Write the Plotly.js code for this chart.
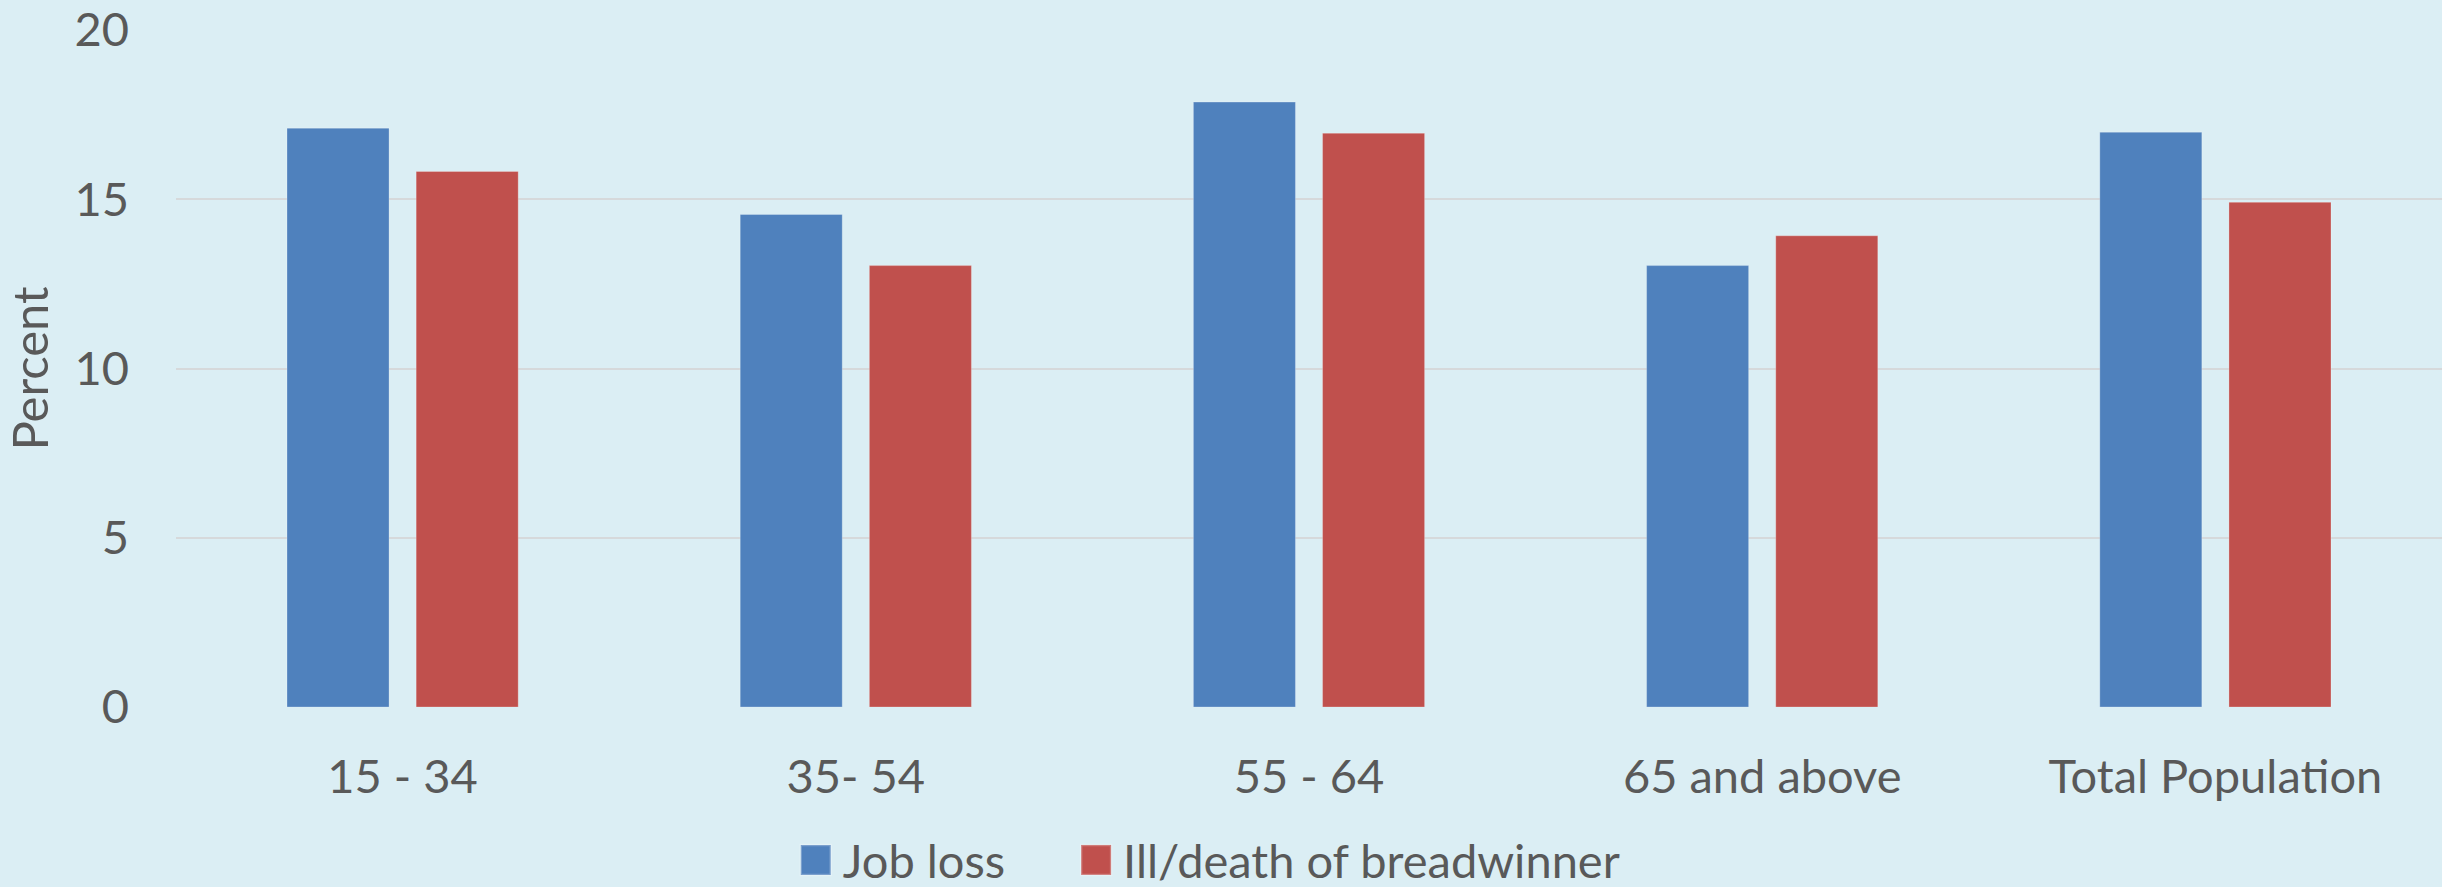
<!DOCTYPE html>
<html>
<head>
<meta charset="utf-8">
<script src="https://cdn.plot.ly/plotly-3.0.1.min.js"></script>
<style>
html,body{margin:0;padding:0;background:#dbeef4;}
#chart{width:2442px;height:887px;}
</style>
</head>
<body>
<div id="chart"></div>
<script>
const categories = ["15 - 34", "35- 54", "55 - 64", "65 and above", "Total Population"];
const jobLoss = [17.1, 14.55, 17.87, 13.04, 16.98];
const illDeath = [15.82, 13.04, 16.95, 13.92, 14.91];
const seriesNames = ["Job loss", "Ill/death of breadwinner"];
const yTicks = [0, 5, 10, 15, 20];

const textColor = "#595959";
const fontFamily = "Lato, 'Open Sans', sans-serif";

const traces = [
  {type: "bar", name: seriesNames[0], x: categories, y: jobLoss, legend: "legend",
   marker: {color: "#4f81bd", line: {color: "rgba(255,255,255,0.25)", width: 1}}},
  {type: "bar", name: seriesNames[1], x: categories, y: illDeath, legend: "legend2",
   marker: {color: "#c0504d", line: {color: "rgba(255,255,255,0.25)", width: 1}}}
];

const legendCommon = {
  orientation: "h", xref: "container", yref: "container",
  xanchor: "left", y: 0.03, yanchor: "middle",
  font: {size: 47, color: textColor}, bgcolor: "rgba(0,0,0,0)",
  itemwidth: 44
};

const layout = {
  width: 2442, height: 887,
  paper_bgcolor: "#dbeef4", plot_bgcolor: "#dbeef4",
  margin: {l: 176, r: 0, t: 30, b: 180},
  barmode: "group", bargap: 0.43, bargroupgap: 0.21,
  font: {family: fontFamily, color: textColor, size: 47},
  xaxis: {
    showgrid: false, zeroline: false, showline: false, ticks: "",
    ticklabelstandoff: 38,
    tickfont: {size: 47, color: textColor}
  },
  yaxis: {
    range: [0, 20], tickvals: yTicks, ticktext: yTicks.map(String),
    showgrid: true, gridcolor: "#d6d9db", gridwidth: 2,
    zeroline: false, showline: false, ticks: "",
    ticklabelstandoff: 46,
    tickfont: {size: 47, color: textColor},
    title: {text: "Percent", font: {size: 49, color: textColor}, standoff: 16}
  },
  showlegend: true,
  legend: Object.assign({}, legendCommon, {x: 0.323}),
  legend2: Object.assign({}, legendCommon, {x: 0.4378})
};

function bigLegendSymbols(){
  document.querySelectorAll(".legendpoints path").forEach(function(p){
    var t = p.getAttribute("transform") || "";
    if (t.indexOf("scale") === -1) p.setAttribute("transform", t + " scale(2.5)");
  });
}

Plotly.newPlot("chart", traces, layout, {displayModeBar: false}).then(function(gd){
  bigLegendSymbols();
  gd.on("plotly_afterplot", bigLegendSymbols);
  setTimeout(bigLegendSymbols, 50);
});
</script>
</body>
</html>
